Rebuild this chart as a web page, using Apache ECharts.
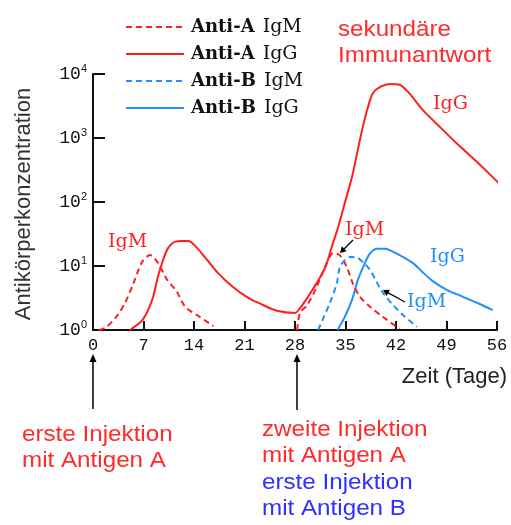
<!DOCTYPE html>
<html>
<head>
<meta charset="utf-8">
<script src="https://cdn.jsdelivr.net/npm/echarts@6/dist/echarts.min.js"></script>
<style>
html,body{margin:0;padding:0;background:#fff;}
#chart{width:511px;height:525px;}
</style>
</head>
<body>
<div id="chart"></div>
<script>
// ---- data ----
const xTicks = [0, 7, 14, 21, 28, 35, 42, 49, 56];
const yExponents = [0, 1, 2, 3, 4];

const seriesNames = ['Anti-A IgM', 'Anti-A IgG', 'Anti-B IgM', 'Anti-B IgG'];

const antiA_IgM_days = [0.8, 1.8, 3.3, 4.4, 5.5, 6.8, 7.9, 9.0, 10.2, 11.6, 12.8, 14.8, 16.7, null,
  28.3, 28.7, 29.7, 31.0, 32.4, 33.3, 34.2, 35.2, 36.0, 37.0, 38.4, 40.2, 42.1, 42.5];
const antiA_IgM_vals = [1.0, 1.1, 1.65, 2.6, 5.0, 11.5, 14.8, 11.2, 6.3, 4.0, 2.3, 1.6, 1.15, null,
  1.0, 1.85, 2.45, 4.7, 11.2, 15.8, 14.8, 9.5, 5.4, 3.3, 2.3, 1.6, 1.12, 1.05];

const antiA_IgG_days = [5.1, 6.9, 8.2, 9.0, 9.7, 10.4, 11.4, 12.3, 13.2, 14.1, 15.5, 17.3, 19.4, 21.3,
  23.1, 25.5, 28.0, 28.7, 29.8, 31.0, 32.2, 33.1, 34.0, 34.9, 35.9, 36.7, 37.4, 38.1, 38.8, 39.8,
  41.2, 42.5, 43.7, 45.7, 48.1, 50.4, 53.2, 55.4, 57.4];
const antiA_IgG_vals = [1.0, 1.45, 2.95, 6.8, 12.3, 19, 24, 24.5, 24.5, 21, 13.8, 7.8, 4.7, 3.3,
  2.6, 2.0, 1.85, 2.2, 3.3, 5.4, 9.5, 20, 41, 96, 245, 650, 1480, 3000, 5000, 6300,
  7000, 6800, 5200, 2750, 1480, 830, 425, 245, 145];

const antiB_IgM_days = [31.2, 32.8, 33.8, 34.2, 34.9, 35.6, 36.6, 37.4, 38.4, 39.4, 40.2, 41.6, 43.0, 44.9];
const antiB_IgM_vals = [1.0, 2.6, 5.4, 9.5, 12.3, 13.8, 13.5, 11.5, 8.7, 5.4, 3.8, 2.45, 1.7, 1.12];

const antiB_IgG_days = [33.9, 34.9, 35.9, 36.7, 37.7, 38.4, 39.4, 40.5, 41.6, 43.0, 44.4, 45.7, 47.1, 49.1, 51.3, 53.6, 55.4];
const antiB_IgG_vals = [1.0, 1.6, 2.95, 6.0, 11.2, 15.8, 18.6, 18.6, 16.6, 13.8, 11.0, 8.0, 5.8, 4.2, 3.3, 2.55, 2.05];

// ---- styles ----
const RED = '#ff1f1f';
const BLUE = '#1f8fff';
const TXT_RED = '#ff2a2a';
const TXT_BLUE = '#3030ff';

function pairs(days, vals) {
  return days.map((d, i) => (d === null ? [null, null] : [d, vals[i]]));
}

const chart = echarts.init(document.getElementById('chart'));

function sansText(x, y, text, color, extra) {
  return Object.assign({
    type: 'text', x: x, y: y, scaleX: 1.1,
    style: { text: text, fill: color, font: '22px "Liberation Sans", Arial, sans-serif',
      textAlign: 'left', textVerticalAlign: 'middle' }
  }, extra || {});
}
function serifText(x, y, text, color) {
  return {
    type: 'text', x: x, y: y,
    style: { text: text, fill: color, font: '19px "DejaVu Serif", serif',
      textAlign: 'left', textVerticalAlign: 'middle' }
  };
}
function arrow(x1, y1, x2, y2, lw, hl, hw) {
  const dx = x2 - x1, dy = y2 - y1, L = Math.sqrt(dx * dx + dy * dy);
  const ux = dx / L, uy = dy / L, px = -uy, py = ux;
  const bx = x2 - ux * hl, by = y2 - uy * hl;
  return [
    { type: 'line', shape: { x1: x1, y1: y1, x2: bx + ux * 1, y2: by + uy * 1 },
      style: { stroke: '#000', lineWidth: lw } },
    { type: 'polygon', shape: { points: [[x2, y2], [bx + px * hw, by + py * hw], [bx - px * hw, by - py * hw]] },
      style: { fill: '#000' } }
  ];
}

const graphics = [
  // axis titles
  { type: 'text', x: 24, y: 204, rotation: Math.PI / 2,
    style: { text: 'Antikörperkonzentration', fill: '#333', font: '22px "Liberation Sans", Arial, sans-serif',
      textAlign: 'center', textVerticalAlign: 'middle' } },
  { type: 'text', x: 507, y: 377,
    style: { text: 'Zeit (Tage)', fill: '#222', font: '22px "Liberation Sans", Arial, sans-serif',
      textAlign: 'right', textVerticalAlign: 'middle' } },
  // annotations
  sansText(338, 30, 'sekundäre', TXT_RED),
  sansText(338, 56, 'Immunantwort', TXT_RED),
  serifText(108, 242, 'IgM', RED),
  serifText(433, 104, 'IgG', RED),
  serifText(345, 230, 'IgM', RED),
  serifText(430, 257, 'IgG', BLUE),
  serifText(407, 302, 'IgM', BLUE),
  sansText(22, 435, 'erste Injektion', TXT_RED),
  sansText(22, 461, 'mit Antigen A', TXT_RED),
  sansText(262, 430, 'zweite Injektion', TXT_RED),
  sansText(262, 456, 'mit Antigen A', TXT_RED),
  sansText(262, 483, 'erste Injektion', TXT_BLUE),
  sansText(262, 509, 'mit Antigen B', TXT_BLUE)
].concat(
  arrow(353, 240, 340, 253, 1.2, 6, 3.5),
  arrow(405, 302, 383, 290, 1.2, 6, 3.5),
  arrow(93, 409, 93, 354, 1.5, 8, 3.5),
  arrow(297, 410, 297, 354, 1.5, 8, 3.5)
);

const dashed = [6, 4];

const option = {
  animation: false,
  backgroundColor: '#fff',
  grid: { left: 93, right: 14, top: 74, bottom: 195, containLabel: false },
  legend: {
    orient: 'vertical', left: 120, top: 12,
    itemWidth: 58, itemHeight: 14, itemGap: 7,
    data: seriesNames,
    itemStyle: { opacity: 0 },
    formatter: function (name) {
      const parts = name.split(' ');
      return '{b|' + parts[0] + '}{sp| }{n|' + parts[1] + '}';
    },
    textStyle: {
      padding: [0, 0, 0, 2],
      rich: {
        b: { fontFamily: '"DejaVu Serif", serif', fontWeight: 'bold', fontSize: 18, color: '#111', height: 20, lineHeight: 20 },
        sp: { fontFamily: '"DejaVu Serif", serif', fontSize: 18, color: '#111', width: 8, height: 20, lineHeight: 20 },
        n: { fontFamily: '"DejaVu Serif", serif', fontWeight: 'normal', fontSize: 19, color: '#111', height: 20, lineHeight: 20 }
      }
    }
  },
  xAxis: {
    type: 'value', min: 0, max: 56, interval: 7,
    axisLine: { show: true, onZero: false, lineStyle: { color: '#111', width: 2 } },
    axisTick: { show: true, inside: true, length: 9, lineStyle: { color: '#111', width: 2 } },
    axisLabel: { margin: 7, color: '#111', fontFamily: '"Liberation Mono", "Courier New", monospace', fontSize: 17,
      formatter: function (v) { return xTicks.indexOf(v) >= 0 ? String(v) : ''; } },
    splitLine: { show: false }
  },
  yAxis: {
    type: 'log', logBase: 10, min: 1, max: 10000,
    axisLine: { show: true, lineStyle: { color: '#111', width: 2 } },
    axisTick: { show: true, inside: true, length: 12, lineStyle: { color: '#111', width: 2 } },
    axisLabel: {
      margin: 6, color: '#111',
      formatter: function (v) {
        const e = Math.round(Math.log10(v));
        return yExponents.indexOf(e) >= 0 ? '{m|10}{s|' + e + '}' : '';
      },
      rich: {
        m: { fontFamily: '"Liberation Mono", "Courier New", monospace', fontSize: 18, color: '#111' },
        s: { fontFamily: '"Liberation Sans", Arial, sans-serif', fontSize: 11, color: '#111', verticalAlign: 'top', padding: [0, 0, 10, 0] }
      }
    },
    splitLine: { show: false }
  },
  series: [
    { name: seriesNames[0], type: 'line', data: pairs(antiA_IgM_days, antiA_IgM_vals), smooth: 0.3,
      symbol: 'none', connectNulls: false, color: RED, lineStyle: { color: RED, width: 2, type: dashed }, z: 3 },
    { name: seriesNames[1], type: 'line', data: pairs(antiA_IgG_days, antiA_IgG_vals), smooth: 0.3,
      symbol: 'none', clip: false, color: RED, lineStyle: { color: RED, width: 2 }, z: 2 },
    { name: seriesNames[2], type: 'line', data: pairs(antiB_IgM_days, antiB_IgM_vals), smooth: 0.3,
      symbol: 'none', color: BLUE, lineStyle: { color: BLUE, width: 2, type: dashed }, z: 3 },
    { name: seriesNames[3], type: 'line', data: pairs(antiB_IgG_days, antiB_IgG_vals), smooth: 0.3,
      symbol: 'none', color: BLUE, lineStyle: { color: BLUE, width: 2 }, z: 2 }
  ],
  graphic: graphics
};
chart.setOption(option);
</script>
</body>
</html>
